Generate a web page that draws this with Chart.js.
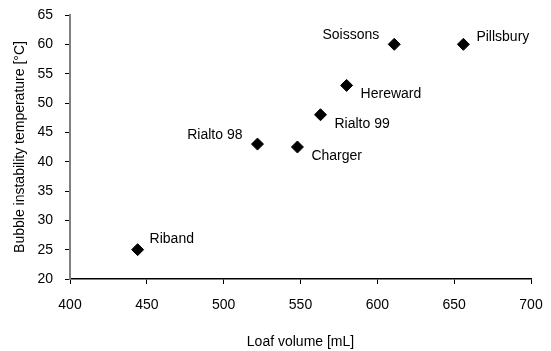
<!DOCTYPE html>
<html>
<head>
<meta charset="utf-8">
<script src="https://cdn.jsdelivr.net/npm/chart.js@4/dist/chart.umd.min.js"></script>
<style>
html,body{margin:0;padding:0;background:#fff;}
#wrap{width:551px;height:351px;position:relative;}
</style>
</head>
<body>
<div id="wrap"><canvas id="c" width="551" height="351"></canvas></div>
<script>
const varieties = ["Riband", "Rialto 98", "Charger", "Rialto 99", "Hereward", "Soissons", "Pillsbury"];
const loafVolume = [444, 522, 548, 563, 580, 611, 656];
const bubbleTemp = [25, 43, 42.5, 48, 53, 60, 60];
const labelSide = ["ne", "nw", "se", "se", "se", "nw", "e"];
const xTicks = [400, 450, 500, 550, 600, 650, 700];
const yTicks = [20, 25, 30, 35, 40, 45, 50, 55, 60, 65];

const FONT = '"Liberation Sans", Arial, sans-serif';
const SIDE_OFFSETS = {
  ne: { align: 'left', dx: 12, dy: -11 },
  nw: { align: 'right', dx: -15, dy: -9 },
  se: { align: 'left', dx: 14, dy: 9 },
  e:  { align: 'left', dx: 13, dy: -7 }
};

function zeroPad(scale) {
  scale.paddingLeft = 0; scale.paddingRight = 0;
  scale.paddingTop = 0; scale.paddingBottom = 0;
}

const labelPlugin = {
  id: 'pointLabels',
  afterDatasetsDraw(chart) {
    const ctx = chart.ctx;
    const meta = chart.getDatasetMeta(0);
    ctx.save();
    ctx.font = '14px ' + FONT;
    ctx.fillStyle = '#000';
    ctx.textBaseline = 'middle';
    meta.data.forEach((pt, i) => {
      const o = SIDE_OFFSETS[labelSide[i]];
      ctx.textAlign = o.align;
      ctx.fillText(varieties[i], pt.x + o.dx, pt.y + o.dy);
    });
    ctx.restore();
  }
};

new Chart(document.getElementById('c'), {
  type: 'scatter',
  data: {
    datasets: [{
      data: loafVolume.map((v, i) => ({ x: v, y: bubbleTemp[i] })),
      pointStyle: 'rectRot',
      pointRadius: 6,
      pointHoverRadius: 6,
      backgroundColor: '#000',
      borderColor: '#000',
      borderWidth: 1
    }]
  },
  options: {
    responsive: false,
    animation: false,
    layout: { autoPadding: false, padding: { left: 0, right: 20, top: 15, bottom: 0 } },
    plugins: { legend: { display: false }, tooltip: { enabled: false } },
    scales: {
      x: {
        type: 'linear',
        min: 400, max: 700,
        afterBuildTicks(scale) { scale.ticks = xTicks.map(v => ({ value: v })); },
        afterFit(scale) { scale.height = 72; zeroPad(scale); },
        border: { display: true, color: '#000', width: 1.5 },
        grid: { display: true, drawOnChartArea: false, drawTicks: true, tickLength: 5, color: '#000', lineWidth: 1 },
        ticks: { color: '#000', font: { family: FONT, size: 14 }, padding: 13, maxRotation: 0 },
        title: { display: true, text: 'Loaf volume [mL]', color: '#000', font: { family: FONT, size: 14 }, padding: { top: 18, bottom: 0 } }
      },
      y: {
        type: 'linear',
        min: 20, max: 65,
        afterBuildTicks(scale) { scale.ticks = yTicks.map(v => ({ value: v })); },
        afterFit(scale) { scale.width = 70; zeroPad(scale); },
        border: { display: true, color: '#808080', width: 2 },
        grid: { display: true, drawOnChartArea: false, drawTicks: true, tickLength: 5, color: '#000', lineWidth: 1 },
        ticks: { color: '#000', font: { family: FONT, size: 14 }, padding: 12 },
        title: { display: true, text: 'Bubble instability temperature [°C]', color: '#000', font: { family: FONT, size: 14 }, padding: { top: 12, bottom: 4 } }
      }
    }
  },
  plugins: [labelPlugin]
});
</script>
</body>
</html>
